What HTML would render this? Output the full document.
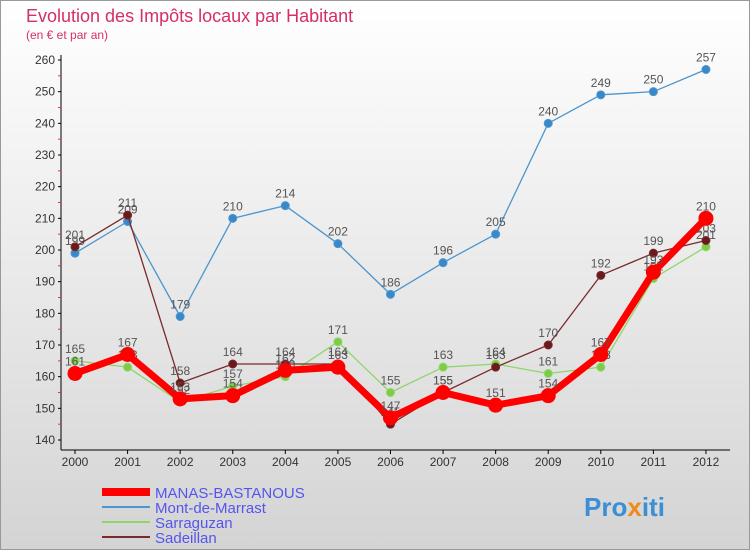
<!DOCTYPE html>
<html><head><meta charset="utf-8"><style>
body{margin:0;width:750px;height:550px;overflow:hidden;font-family:"Liberation Sans",sans-serif}
svg text{font-family:"Liberation Sans",sans-serif}
</style></head><body>
<svg id="c" width="750" height="550">
<defs><linearGradient id="bg" x1="0" y1="0" x2="0" y2="1"><stop offset="0" stop-color="#ffffff"/><stop offset="1" stop-color="#d4d4d4"/></linearGradient></defs>
<rect x="0.5" y="0.5" width="749" height="549" fill="url(#bg)" stroke="#999"/>
<text x="26" y="22" font-size="18" fill="#d62d6b">Evolution des Impôts locaux par Habitant</text>
<text x="26" y="39" font-size="12" fill="#d62d6b">(en € et par an)</text>
<g id="axes"></g><g id="series"></g><g id="legend"></g>
<text x="584" y="516" font-size="26" font-weight="bold" fill="#3a8fd6">Pro<tspan fill="#f08a1c">x</tspan>iti</text>
</svg>
<script>
const years=["2000","2001","2002","2003","2004","2005","2006","2007","2008","2009","2010","2011","2012"];
const yTicks=[140,150,160,170,180,190,200,210,220,230,240,250,260];
const manas=[161,167,153,154,162,163,147,155,151,154,167,193,210];
const mont=[199,209,179,210,214,202,186,196,205,240,249,250,257];
const sarr=[165,163,152,157,160,171,155,163,164,161,163,191,201];
const sade=[201,211,158,164,164,164,145,155,163,170,192,199,203];
const NS="http://www.w3.org/2000/svg";
const X=i=>75+i*52.58, Y=v=>440-(v-140)*3.1667;
function mk(t,a,p){const e=document.createElementNS(NS,t);for(const k in a)e.setAttribute(k,a[k]);p.appendChild(e);return e;}
const ax=document.getElementById('axes');
let l=mk('line',{x1:61,y1:55,x2:61,y2:450,stroke:'#000'},ax);


l=mk('line',{x1:61,y1:450,x2:730,y2:450,stroke:'#000'},ax);


yTicks.forEach(v=>{
 mk('line',{x1:58,y1:Y(v),x2:61,y2:Y(v),stroke:'#000'},ax);
 if(v<260) mk('line',{x1:58,y1:Y(v+5),x2:61,y2:Y(v+5),stroke:'#e33'},ax);
 const t=mk('text',{x:55,y:Y(v)+4,'text-anchor':'end','font-size':12,fill:'#333'},ax);t.textContent=v;
 
 
});
years.forEach((y,i)=>{
 mk('line',{x1:X(i),y1:450,x2:X(i),y2:454,stroke:'#000'},ax);
 const t=mk('text',{x:X(i),y:466,'text-anchor':'middle','font-size':12,fill:'#333'},ax);t.textContent=y;
 
 
});
const sg=document.getElementById('series');
function draw(d,col,w,r,name,pc){
 const g=mk('g',{},sg);
 
 
 mk('polyline',{points:d.map((v,i)=>X(i)+','+Y(v)).join(' '),fill:'none',stroke:col,'stroke-width':w,'stroke-linejoin':'round'},g);
 d.forEach((v,i)=>{
  const c=mk('circle',{cx:X(i),cy:Y(v),r:r,fill:pc,stroke:col,'stroke-width':1},g);
  
  
  const t=mk('text',{x:X(i),y:Y(v)-8,'text-anchor':'middle','font-size':12,fill:'#555'},g);t.textContent=v;
  
  
 });
}
draw(mont,'#4a96d0',1.3,4,'series-mont-de-marrast','#3a88c8');
draw(sarr,'#8ed66a',1.3,4,'series-sarraguzan','#7ccc44');
draw(sade,'#7a2a2a',1.3,4,'series-sadeillan','#6a1a1a');
draw(manas,'#f00',7,7,'series-manas-bastanous','#f00');
const lg=document.getElementById('legend');
const items=[['MANAS-BASTANOUS','#f00',8],['Mont-de-Marrast','#4a96d0',2],['Sarraguzan','#8ed66a',2],['Sadeillan','#7a2a2a',2]];
items.forEach((it,i)=>{
 const y=492+i*15;
 const g=mk('g',{},lg);
 
 
 mk('line',{x1:102,y1:y,x2:150,y2:y,stroke:it[1],'stroke-width':it[2]},g);
 const t=mk('text',{x:155,y:y+6,'font-size':15,fill:'#5555ee'},g);t.textContent=it[0];
});
</script>
</body></html>
